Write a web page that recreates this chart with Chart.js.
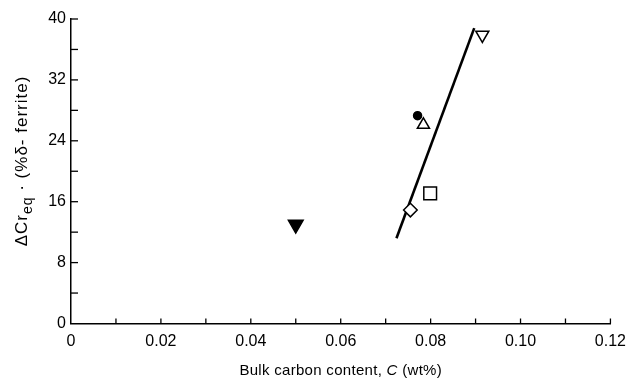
<!DOCTYPE html>
<html lang="en">
<head>
    <meta charset="UTF-8">
    <title>ΔCr_eq vs bulk carbon content</title>
    <script src="https://cdn.jsdelivr.net/npm/chart.js"></script>
    <style>
        body {
            margin: 0;
            background-color: #ffffff;
        }
        .wrap {
            width: 634px;
            height: 381px;
        }
    </style>
</head>
<body>
    <div class="wrap">
        <canvas id="chart"></canvas>
    </div>

    <script>
        // measured points, one per marker
        const openDownX = [0.0915];
        const openDownY = [37.9];
        const filledDotX = [0.0771];
        const filledDotY = [27.3];
        const openUpX = [0.0784];
        const openUpY = [26.1];
        const openSquareX = [0.0799];
        const openSquareY = [17.1];
        const openDiamondX = [0.0755];
        const openDiamondY = [14.9];
        const filledDownX = [0.0500];
        const filledDownY = [13.0];

        // fitted line end points
        const fitX = [0.0724, 0.0897];
        const fitY = [11.2, 38.8];

        const xMajorLabels = ['0', '0.02', '0.04', '0.06', '0.08', '0.10', '0.12'];
        const yMajorLabels = ['0', '8', '16', '24', '32', '40'];

        const FONT = '"Liberation Sans", Arial, Helvetica, sans-serif';

        function pts(xs, ys) {
            return xs.map((x, i) => ({ x: x, y: ys[i] }));
        }

        function marker(xs, ys, style, radius, filled, rotation) {
            return {
                data: pts(xs, ys),
                pointStyle: style,
                pointRadius: radius,
                pointHoverRadius: radius,
                pointRotation: rotation || 0,
                pointBackgroundColor: filled ? '#000' : '#fff',
                pointBorderColor: '#000',
                pointBorderWidth: 1.5,
                showLine: false
            };
        }

        function drawParts(ctx, parts, cx, y) {
            let total = 0;
            parts.forEach(p => { ctx.font = p.f; total += ctx.measureText(p.t).width; });
            let x = cx - total / 2;
            parts.forEach(p => {
                ctx.font = p.f;
                ctx.fillText(p.t, x, y + (p.dy || 0));
                x += ctx.measureText(p.t).width;
            });
        }

        // inward ticks + axis titles
        const axisExtras = {
            id: 'axisExtras',
            afterDraw(c) {
                const ctx = c.ctx;
                const xs = c.scales.x, ys = c.scales.y;
                const area = c.chartArea;
                ctx.save();
                ctx.strokeStyle = '#000';
                ctx.lineWidth = 1.3;
                xs.ticks.forEach(t => {
                    if (t.value <= 0) return;
                    const px = xs.getPixelForValue(t.value);
                    ctx.beginPath();
                    ctx.moveTo(px, area.bottom);
                    ctx.lineTo(px, area.bottom - 5);
                    ctx.stroke();
                });
                ys.ticks.forEach(t => {
                    if (t.value <= 0) return;
                    const py = ys.getPixelForValue(t.value);
                    ctx.beginPath();
                    ctx.moveTo(area.left, py);
                    ctx.lineTo(area.left + 7, py);
                    ctx.stroke();
                });

                ctx.fillStyle = '#000';
                ctx.textBaseline = 'alphabetic';

                // x title with italic C
                ctx.letterSpacing = '0.3px';
                drawParts(ctx, [
                    { t: 'Bulk carbon content, ', f: '15px ' + FONT },
                    { t: 'C', f: 'italic 15px ' + FONT },
                    { t: ' (wt%)', f: '15px ' + FONT }
                ], (area.left + area.right) / 2, 375);

                // y title, rotated, with subscript "eq"
                ctx.letterSpacing = '1px';
                ctx.translate(27, 161);
                ctx.rotate(-Math.PI / 2);
                drawParts(ctx, [
                    { t: 'ΔCr', f: '17px ' + FONT },
                    { t: 'eq', f: '14px ' + FONT, dy: 5 },
                    { t: ' · (%δ- ferrite)', f: '17px ' + FONT }
                ], 0, 0);
                ctx.restore();
            }
        };

        const ctx = document.getElementById('chart').getContext('2d');
        const chart = new Chart(ctx, {
            type: 'scatter',
            data: {
                datasets: [
                    marker(openDownX, openDownY, 'triangle', 7.5, false, 180),
                    marker(filledDotX, filledDotY, 'circle', 4, true),
                    marker(openUpX, openUpY, 'triangle', 7, false),
                    marker(openSquareX, openSquareY, 'rect', 9, false),
                    marker(openDiamondX, openDiamondY, 'rectRot', 6.8, false),
                    marker(filledDownX, filledDownY, 'triangle', 8.5, true, 180),
                    {
                        data: pts(fitX, fitY),
                        showLine: true,
                        borderColor: '#000',
                        borderWidth: 2.6,
                        pointRadius: 0,
                        pointHoverRadius: 0,
                        order: 10
                    }
                ]
            },
            options: {
                responsive: true,
                maintainAspectRatio: false,
                animation: false,
                events: [],
                layout: {
                    padding: { top: 19, right: 21, left: 0, bottom: 0 }
                },
                plugins: {
                    legend: { display: false },
                    tooltip: { enabled: false }
                },
                scales: {
                    x: {
                        type: 'linear',
                        min: 0,
                        max: 0.12,
                        border: { display: true, color: '#000', width: 1.5 },
                        grid: { display: true, drawOnChartArea: false, drawTicks: false },
                        afterFit(scale) { scale.height = 57.5; },
                        ticks: {
                            stepSize: 0.01,
                            autoSkip: false,
                            maxRotation: 0,
                            padding: 8,
                            color: '#000',
                            font: { family: FONT, size: 16 },
                            callback(v) {
                                const k = Math.round(v * 100);
                                return k % 2 === 0 ? xMajorLabels[k / 2] : '';
                            }
                        }
                    },
                    y: {
                        type: 'linear',
                        min: 0,
                        max: 40,
                        border: { display: true, color: '#000', width: 1.5 },
                        grid: { display: true, drawOnChartArea: false, drawTicks: false },
                        afterFit(scale) { scale.width = 71; },
                        ticks: {
                            stepSize: 4,
                            autoSkip: false,
                            padding: 5,
                            color: '#000',
                            font: { family: FONT, size: 16 },
                            callback(v) {
                                const k = Math.round(v);
                                return k % 8 === 0 ? yMajorLabels[k / 8] : '';
                            }
                        }
                    }
                }
            },
            plugins: [axisExtras]
        });
    </script>
</body>
</html>
